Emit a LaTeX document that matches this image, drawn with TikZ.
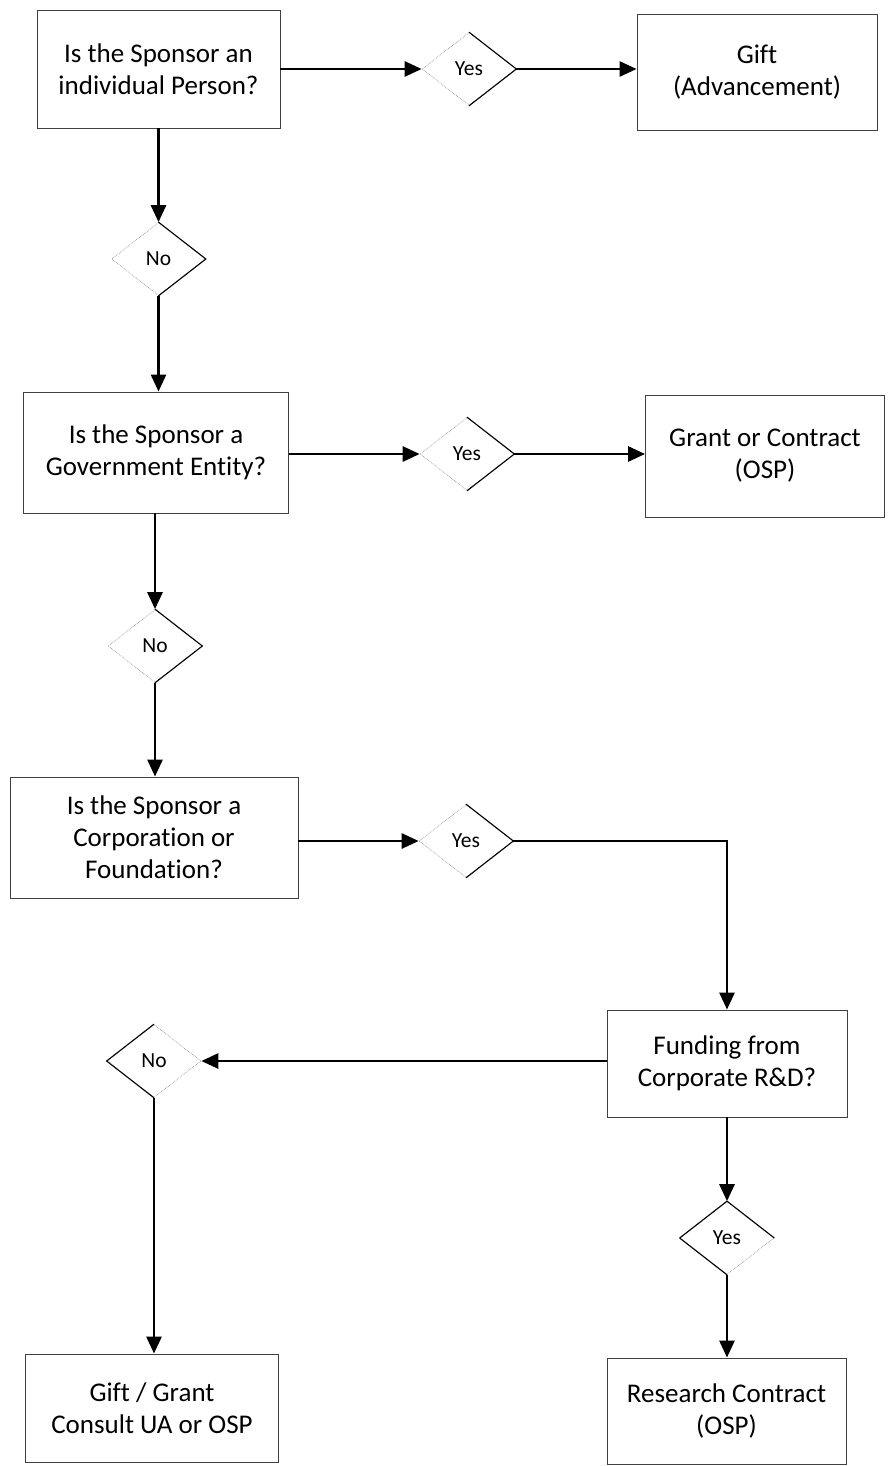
\documentclass[tikz,border=0pt]{standalone}
\usepackage{fontspec}
\setmainfont{Carlito}[Ligatures={NoCommon}]
\usetikzlibrary{arrows.meta,shapes.geometric}
\tikzset{
  box/.style={draw=black!75, line width=0.9pt, rectangle, align=center, inner sep=0pt,
    font=\fontsize{27}{32}\selectfont},
  dia/.style={diamond, draw=black!40, densely dotted, line width=0.7pt, inner sep=0pt,
    minimum width=94pt, minimum height=73pt, font=\fontsize{21.5}{24}\selectfont},
  edge/.style={line width=1.1pt, black},
  flow/.style={line width=2.8pt, -{Triangle[length=17pt,width=15pt]}}
}
\begin{document}
\begin{tikzpicture}[x=1pt,y=-1pt]
\useasboundingbox (0,0) rectangle (887,1466);
% boxes
\node[box, minimum width=243pt, minimum height=118pt] (b1) at (158.5,69) {Is the Sponsor an\\individual Person?};
\node[box, minimum width=240pt, minimum height=116pt] (gift) at (757,72) {Gift\\(Advancement)};
\node[box, minimum width=265pt, minimum height=121pt] (b2) at (156,452.5) {Is the Sponsor a\\Government Entity?};
\node[box, minimum width=239pt, minimum height=122pt] (grant) at (765,456) {Grant or Contract\\(OSP)};
\node[box, minimum width=288pt, minimum height=121pt] (b3) at (154,837.5) {Is the Sponsor a\\Corporation or\\Foundation?};
\node[box, minimum width=240pt, minimum height=107pt] (fund) at (727,1063.5) {Funding from\\Corporate R\&D?};
\node[box, minimum width=253pt, minimum height=108pt] (gg) at (152,1408) {Gift / Grant\\Consult UA or OSP};
\node[box, minimum width=239pt, minimum height=106pt] (rc) at (726.5,1411) {Research Contract\\(OSP)};
% diamonds
\node[dia] (y1) at (469,69) {Yes};
\node[dia] (n1) at (158.5,259) {No};
\node[dia] (y2) at (467,454) {Yes};
\node[dia] (n2) at (155,646) {No};
\node[dia] (y3) at (466,841) {Yes};
\node[dia] (n3) at (154,1061) {No};
\node[dia] (y4) at (727,1238) {Yes};
% solid diamond edges
\draw[edge] (y1.north) -- (y1.east) -- (y1.south);
\draw[edge] (n1.north) -- (n1.east) -- (n1.south);
\draw[edge] (y2.north) -- (y2.east) -- (y2.south);
\draw[edge] (n2.north) -- (n2.east) -- (n2.south);
\draw[edge] (y3.north) -- (y3.east) -- (y3.south);
\draw[edge] (n3.north) -- (n3.west) -- (n3.south);
\draw[edge] (y4.west) -- (y4.north) -- (y4.east);
\draw[edge] (y4.west) -- (y4.south);
% connectors
\draw[flow] (b1.east) -- (y1.west);
\draw[flow] (y1.east) -- (gift.west |- y1.east);
\draw[flow] (b1.south) -- (n1.north);
\draw[flow] (n1.south) -- (n1.south |- b2.north);
\draw[flow] (b2.east |- y2.west) -- (y2.west);
\draw[flow] (y2.east) -- (grant.west |- y2.east);
\draw[flow] (b2.south -| n2.north) -- (n2.north);
\draw[flow] (n2.south) -- (n2.south |- b3.north);
\draw[flow] (b3.east |- y3.west) -- (y3.west);
\draw[flow] (y3.east) -| (fund.north);
\draw[flow] (fund.west |- n3.east) -- (n3.east);
\draw[flow] (n3.south) -- (n3.south |- gg.north);
\draw[flow] (fund.south) -- (y4.north);
\draw[flow] (y4.south) -- (y4.south |- rc.north);
\end{tikzpicture}
\end{document}
